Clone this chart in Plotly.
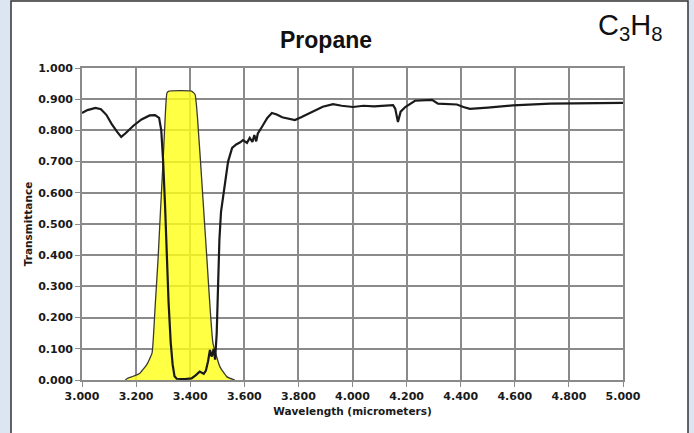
import plotly.graph_objects as go

# Propane transmittance curve
wavelength = [3.000, 3.020, 3.050, 3.070, 3.090, 3.110, 3.130, 3.145, 3.160, 3.190,
              3.220, 3.250, 3.270, 3.285, 3.293, 3.300, 3.307, 3.313, 3.320, 3.328,
              3.335, 3.342, 3.350, 3.380, 3.405, 3.420, 3.435, 3.450, 3.458, 3.466,
              3.473, 3.480, 3.487, 3.492, 3.498, 3.503, 3.508, 3.514, 3.521, 3.530,
              3.540, 3.555, 3.570, 3.585, 3.595, 3.610, 3.620, 3.630, 3.637, 3.644,
              3.650, 3.665, 3.685, 3.702, 3.720, 3.740, 3.760, 3.787, 3.810, 3.854,
              3.890, 3.928, 3.960, 4.002, 4.040, 4.080, 4.120, 4.150, 4.158, 4.168,
              4.178, 4.195, 4.231, 4.260, 4.294, 4.316, 4.350, 4.386, 4.410, 4.434,
              4.500, 4.593, 4.730, 4.852, 5.000]
transmittance = [0.856, 0.865, 0.872, 0.868, 0.850, 0.820, 0.795, 0.779, 0.790, 0.815,
                 0.835, 0.848, 0.849, 0.840, 0.800, 0.700, 0.560, 0.400, 0.250, 0.120,
                 0.050, 0.012, 0.004, 0.003, 0.005, 0.015, 0.027, 0.020, 0.030, 0.060,
                 0.096, 0.075, 0.100, 0.065, 0.150, 0.300, 0.450, 0.540, 0.587, 0.640,
                 0.700, 0.744, 0.755, 0.762, 0.769, 0.760, 0.776, 0.763, 0.785, 0.765,
                 0.790, 0.811, 0.840, 0.856, 0.851, 0.842, 0.838, 0.833, 0.842, 0.862,
                 0.876, 0.884, 0.879, 0.875, 0.879, 0.877, 0.880, 0.881, 0.870, 0.827,
                 0.860, 0.875, 0.895, 0.897, 0.898, 0.886, 0.884, 0.883, 0.875, 0.869,
                 0.873, 0.880, 0.886, 0.887, 0.888]

# Filter passband
filter_wl = [3.160, 3.166, 3.190, 3.214, 3.240, 3.259, 3.270, 3.281, 3.290, 3.300,
             3.308, 3.314, 3.322, 3.405, 3.418, 3.427, 3.445, 3.462, 3.484, 3.510,
             3.536, 3.558, 3.565]
filter_t = [0.000, 0.004, 0.012, 0.022, 0.050, 0.087, 0.230, 0.385, 0.540, 0.705,
            0.850, 0.920, 0.926, 0.926, 0.915, 0.840, 0.610, 0.385, 0.119, 0.042,
            0.010, 0.002, 0.000]

ytick_vals = [0.0, 0.1, 0.2, 0.3, 0.4, 0.5, 0.6, 0.7, 0.8, 0.9, 1.0]
xtick_vals = [3.0, 3.2, 3.4, 3.6, 3.8, 4.0, 4.2, 4.4, 4.6, 4.8, 5.0]

W, H = 694, 433
L, R, T, B = 82, 71, 68, 53
pw, ph = W - L - R, H - T - B

def px(x):
    return (x - L) / pw

def py(y):
    return (H - B - y) / ph

fig = go.Figure()
fig.add_trace(go.Scatter(x=filter_wl, y=filter_t, mode="lines", fill="toself",
                         fillcolor="rgba(255,255,20,0.8)",
                         line=dict(color="#3a3a30", width=1.3, shape="spline", smoothing=0.4),
                         hoverinfo="skip", showlegend=False))
fig.add_trace(go.Scatter(x=wavelength, y=transmittance, mode="lines",
                         line=dict(color="#1a1a1a", width=2.2), showlegend=False))

grid = "#8a8a8a"
tickfont = dict(family="DejaVu Sans", size=11, color="#1a1a1a", weight="bold")
fig.update_xaxes(range=[3, 5], tickvals=xtick_vals, tickformat=".3f",
                 showgrid=True, gridcolor=grid, gridwidth=1.6,
                 showline=True, linecolor=grid, linewidth=1.6, mirror=True,
                 ticks="outside", ticklen=5, tickcolor=grid, tickwidth=1.4,
                 tickfont=tickfont, zeroline=False,
                 title=dict(text="Wavelength (micrometers)", standoff=6,
                            font=dict(family="DejaVu Sans", size=10.5, color="#1a1a1a", weight="bold")))
fig.update_yaxes(range=[0, 1], tickvals=ytick_vals, tickformat=".3f",
                 showgrid=True, gridcolor=grid, gridwidth=1.6,
                 showline=True, linecolor=grid, linewidth=1.6, mirror=True,
                 ticks="outside", ticklen=5, tickcolor=grid, tickwidth=1.4,
                 tickfont=tickfont, zeroline=False,
                 title=dict(text="Transmittance", standoff=4,
                            font=dict(family="DejaVu Sans", size=10.5, color="#1a1a1a", weight="bold")))

# White panel with dark border
fig.add_shape(type="rect", xref="paper", yref="paper",
              x0=px(11), x1=px(688), y0=py(440), y1=py(1),
              fillcolor="white", line=dict(color="#333333", width=1.5), layer="below")

fig.add_annotation(text="Propane", xref="paper", yref="paper", x=px(326), y=py(40),
                   xanchor="center", yanchor="middle", showarrow=False,
                   font=dict(family="Liberation Sans", size=23, color="#111111", weight="bold"))
fig.add_annotation(text="C<sub>3</sub>H<sub>8</sub>", xref="paper", yref="paper",
                   x=px(596), y=py(27), xanchor="left", yanchor="middle", showarrow=False,
                   font=dict(family="Liberation Sans", size=29, color="#111111"))

fig.update_layout(width=W, height=H, margin=dict(l=L, r=R, t=T, b=B),
                  paper_bgcolor="#dce6f2", plot_bgcolor="white")
fig.write_html("out.html")
